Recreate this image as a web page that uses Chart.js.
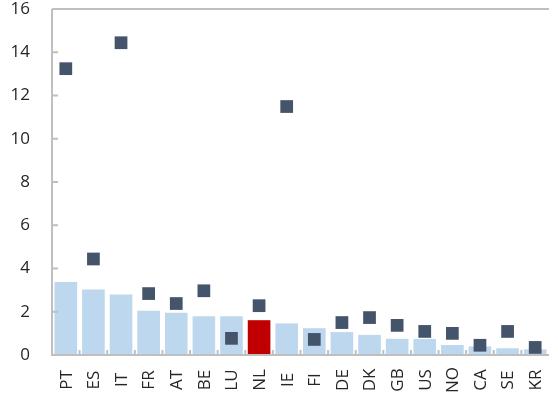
<!DOCTYPE html>
<html>
<head>
<meta charset="utf-8">
<script src="https://cdn.jsdelivr.net/npm/chart.js@4/dist/chart.umd.min.js"></script>
<style>
  body { margin: 0; background: #fff; }
  #wrap { width: 558px; height: 399px; }
</style>
</head>
<body>
<div id="wrap"><canvas id="myChart"></canvas></div>
<script>
// data
const countries = ['PT', 'ES', 'IT', 'FR', 'AT', 'BE', 'LU', 'NL', 'IE', 'FI', 'DE', 'DK', 'GB', 'US', 'NO', 'CA', 'SE', 'KR'];
const barValues = [3.37, 3.03, 2.80, 2.05, 1.95, 1.79, 1.79, 1.61, 1.46, 1.24, 1.06, 0.93, 0.75, 0.74, 0.46, 0.40, 0.31, 0.26];
const squareValues = [13.24, 4.44, 14.44, 2.84, 2.38, 2.97, 0.77, 2.28, 11.49, 0.72, 1.50, 1.73, 1.37, 1.09, 1.00, 0.45, 1.09, 0.35];
const yMin = 0;
const yMax = 16;
const yStep = 2;
const highlight = 'NL';

const fontFamily = '"Open Sans", "Noto Sans", sans-serif';
const axisColor = '#bfbfbf';
const textColor = '#262626';

let barColors = countries.map(c => c === highlight ? '#c00000' : '#bdd7ee');

// axis lines, inside tick marks and vertical category labels centred under the bars
const axisExtras = {
    id: 'axisExtras',
    afterDatasetsDraw(chart) {
        const ctx = chart.ctx;
        const area = chart.chartArea;
        const x = chart.scales.x;
        const y = chart.scales.y;

        ctx.save();
        ctx.strokeStyle = axisColor;
        ctx.lineWidth = 2;

        ctx.beginPath();
        ctx.moveTo(area.left, area.top);
        ctx.lineTo(area.right, area.top);
        ctx.moveTo(area.left, area.top);
        ctx.lineTo(area.left, area.bottom);
        ctx.lineTo(area.right, area.bottom);
        ctx.stroke();

        // y ticks pointing into the plot
        ctx.beginPath();
        y.ticks.forEach(t => {
            let py = y.getPixelForValue(t.value);
            ctx.moveTo(area.left, py);
            ctx.lineTo(area.left + 6, py);
        });
        // x ticks between categories
        for (let i = 1; i < countries.length; i++) {
            let px = (x.getPixelForValue(i - 1) + x.getPixelForValue(i)) / 2;
            ctx.moveTo(px, area.bottom);
            ctx.lineTo(px, area.bottom - 5);
        }
        ctx.stroke();

        ctx.fillStyle = textColor;
        ctx.font = '17px ' + fontFamily;
        ctx.textAlign = 'center';
        ctx.textBaseline = 'middle';
        countries.forEach((c, i) => {
            ctx.save();
            ctx.translate(x.getPixelForValue(i), area.bottom + 25);
            ctx.rotate(-Math.PI / 2);
            ctx.fillText(c, 0, 1);
            ctx.restore();
        });
        ctx.restore();
    }
};

let ctx = document.getElementById('myChart').getContext('2d');

let myChart = new Chart(ctx, {
    type: 'bar',
    data: {
        labels: countries,
        datasets: [{
            type: 'line',
            data: squareValues,
            showLine: false,
            pointStyle: 'rect',
            pointRadius: 9,
            pointHoverRadius: 9,
            pointBackgroundColor: '#44546a',
            pointBorderWidth: 0,
            order: 0
        }, {
            data: barValues,
            backgroundColor: barColors,
            borderWidth: 0,
            barPercentage: 0.82,
            categoryPercentage: 1,
            order: 1
        }]
    },
    options: {
        responsive: true,
        maintainAspectRatio: false,
        animation: false,
        layout: { padding: { top: 7, right: 0, left: 0, bottom: 0 } },
        plugins: {
            legend: { display: false },
            tooltip: { enabled: false }
        },
        scales: {
            x: {
                grid: { display: false },
                border: { display: false },
                ticks: { display: false },
                afterFit: s => { s.height = 44; s.paddingLeft = 0; s.paddingRight = 0; }
            },
            y: {
                min: yMin,
                max: yMax,
                grid: { display: false },
                border: { display: false },
                ticks: {
                    stepSize: yStep,
                    padding: 14,
                    color: textColor,
                    font: { family: fontFamily, size: 17 }
                },
                afterFit: s => { s.width = 52; s.paddingTop = 0; s.paddingBottom = 0; }
            }
        }
    },
    plugins: [axisExtras]
});
</script>
</body>
</html>
